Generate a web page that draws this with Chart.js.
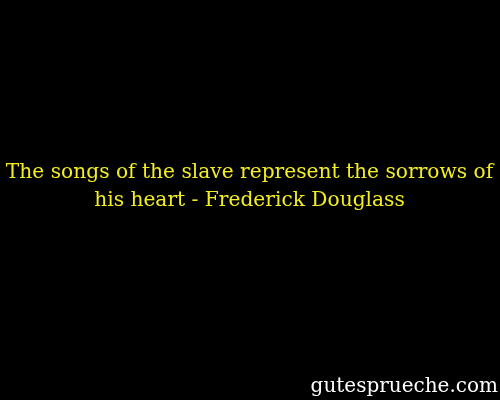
<!DOCTYPE html>
<html>
<head>
<meta charset="utf-8">
<script src="https://cdn.jsdelivr.net/npm/chart.js@4"></script>
<style>
  html, body { margin: 0; padding: 0; background: #000; }
  #wrap { width: 500px; height: 400px; }
</style>
</head>
<body>
<div id="wrap"><canvas id="chart"></canvas></div>
<script>
// quote card: no series, only text
const quoteLines = [
  "The songs of the slave represent the sorrows of",
  "his heart - Frederick Douglass"
];
const watermark = "gutesprueche.com";
const categories = [];
const values = [];

new Chart(document.getElementById("chart"), {
  type: "bar",
  data: {
    labels: categories,
    datasets: [{ data: values }],
  },
  options: {
    responsive: true,
    maintainAspectRatio: false,
    animation: false,
    layout: { padding: { left: 1, right: 2 } },
    scales: {
      x: { display: false },
      y: { display: false },
    },
    plugins: {
      legend: { display: false },
      tooltip: { enabled: false },
      title: {
        display: true,
        text: quoteLines,
        color: "#f2ee22",
        font: { family: "DejaVu Serif", size: 20.2, weight: "normal", lineHeight: 1.38 },
        padding: { top: 158.5, bottom: 0 },
      },
      subtitle: {
        display: true,
        position: "bottom",
        align: "end",
        text: watermark,
        color: "#ffffff",
        font: { family: "DejaVu Serif", size: 20, weight: "normal", lineHeight: 1.2 },
        padding: { top: 0, bottom: 1 },
      },
    },
  },
});
</script>
</body>
</html>
